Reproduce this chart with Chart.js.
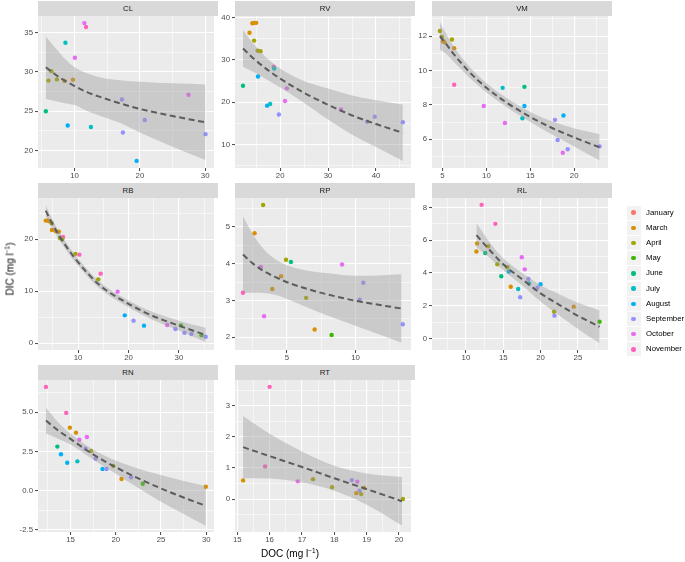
<!DOCTYPE html>
<html><head><meta charset="utf-8">
<script src="https://cdn.jsdelivr.net/npm/chart.js@4.4.1/dist/chart.umd.min.js"></script>
<style>
html,body{margin:0;padding:0;background:#fff;}
#fig{position:relative;width:685px;height:562px;overflow:hidden;font-family:"Liberation Sans",Arial,Helvetica,sans-serif;background:#fff;}
canvas{position:absolute;}
.strip{position:absolute;background:#D9D9D9;color:#1A1A1A;font-size:7.8px;text-align:center;z-index:5;}
.ttl{position:absolute;font-size:10px;color:#000;white-space:nowrap;z-index:5;}
.ttl sup{font-size:6.5px;vertical-align:4px;line-height:0;}
.key{position:absolute;width:14px;height:14px;background:#F2F2F2;}
.dot{position:absolute;width:4.4px;height:4.4px;border-radius:50%;left:4.8px;top:4.8px;}
.ltxt{position:absolute;font-size:7.8px;color:#000;white-space:nowrap;}
</style></head>
<body><div id="fig"></div>
<script>
// ---------- legend categories ----------
const MONTHS = ['January','March','April','May','June','July','August','September','October','November'];
const MONTH_CODES = ['Jan','Mar','Apr','May','Jun','Jul','Aug','Sep','Oct','Nov'];
const MONTH_COLORS = ['#F8766D','#D89000','#A3A500','#39B600','#00BF7D','#00BFC4','#00B0F6','#9590FF','#E76BF3','#FF62BC'];

// ---------- CL ----------
const CL_doc = [5.6, 6.0, 6.45, 7.3, 8.45, 9.75, 8.6, 8.95, 10.05, 11.5, 11.75, 12.5, 17.25, 17.4, 20.75, 19.5, 27.45, 30.05];
const CL_dic = [25.0, 28.9, 30.1, 29.05, 28.85, 29.0, 33.7, 23.2, 31.8, 36.2, 35.7, 23.0, 26.5, 22.3, 23.9, 18.7, 27.1, 22.1];
const CL_month = ['Jun','Apr','Apr','Apr','Mar','Mar','Jul','Aug','Oct','Oct','Nov','Jul','Sep','Sep','Sep','Aug','Oct','Sep'];
const CL_fitDoc = [5.6, 7, 8.7, 10, 12, 14, 17, 20, 25, 30.05];
const CL_fit = [30.6, 29.7, 28.8, 28.2, 27.4, 26.8, 26.0, 25.3, 24.4, 23.6];
const CL_hi = [34.5, 33.1, 31.5, 30.6, 29.8, 29.3, 28.95, 28.75, 28.55, 28.4];
const CL_lo = [26.6, 26.3, 26.0, 25.8, 25.0, 24.4, 23.5, 22.3, 20.5, 18.8];
const CL_xTicks = [10, 20, 30];
const CL_yTicks = [20, 25, 30, 35];

// ---------- RV ----------
const RV_doc = [12.24, 13.6, 14.2, 14.6, 15.0, 14.56, 15.3, 15.9, 15.37, 17.28, 17.9, 18.64, 18.75, 19.73, 21.0, 21.4, 32.7, 38.16, 39.73, 45.6];
const RV_dic = [23.9, 36.45, 38.7, 38.8, 38.8, 34.6, 32.2, 32.1, 26.1, 19.2, 19.6, 28.4, 28.0, 17.1, 20.3, 23.3, 18.3, 15.4, 16.6, 15.3];
const RV_month = ['Jun','Mar','Mar','Mar','Mar','Apr','Apr','Apr','Aug','Aug','Jul','Nov','Jul','Sep','Oct','Oct','Oct','Sep','Sep','Sep'];
const RV_fitDoc = [12.24, 14.35, 17.76, 20, 24.56, 30, 34.76, 40, 45.6];
const RV_fit = [32.74, 30.45, 27.35, 25.6, 22.5, 19.4, 17.0, 14.85, 12.78];
const RV_hi = [37.08, 33.92, 29.97, 28.0, 25.24, 23.27, 21.69, 20.5, 19.47];
const RV_lo = [28.4, 27.2, 25.0, 23.5, 20.2, 15.9, 12.5, 9.4, 6.13];
const RV_xTicks = [20, 30, 40];
const RV_yTicks = [10, 20, 30, 40];

// ---------- VM ----------
const VM_doc = [4.7, 4.93, 5.05, 5.22, 6.07, 6.33, 6.33, 9.7, 11.85, 14.33, 14.33, 12.11, 14.1, 17.81, 18.78, 18.11, 18.7, 19.26, 22.89];
const VM_dic = [12.3, 11.95, 11.7, 11.65, 11.8, 11.3, 9.17, 7.94, 8.99, 9.05, 7.94, 6.95, 7.22, 7.13, 7.38, 5.96, 5.22, 5.42, 5.59];
const VM_month = ['Apr','Apr','Mar','Mar','Apr','Mar','Nov','Oct','Jul','Jun','Aug','Oct','Jul','Sep','Aug','Sep','Oct','Sep','Sep'];
const VM_fitDoc = [4.7, 5.3, 6.19, 8.04, 10, 12.11, 15, 17.3, 19.96, 22.89];
const VM_fit = [12.0, 11.62, 11.01, 9.92, 9.0, 8.2, 7.3, 6.7, 6.12, 5.53];
const VM_hi = [12.8, 12.24, 11.46, 10.24, 9.28, 8.47, 7.59, 7.08, 6.64, 6.3];
const VM_lo = [11.2, 11.0, 10.56, 9.6, 8.72, 7.93, 7.01, 6.32, 5.6, 4.76];
const VM_xTicks = [5, 10, 15, 20];
const VM_yTicks = [6, 8, 10, 12];

// ---------- RB ----------
const RB_doc = [3.59, 3.98, 4.3, 4.76, 4.82, 5.53, 6.18, 6.38, 7.02, 6.83, 9.48, 10.26, 14.0, 14.47, 17.83, 19.26, 21.0, 23.07, 27.67, 29.29, 30.39, 31.1, 32.46, 34.47, 35.3];
const RB_dic = [23.6, 23.6, 23.45, 23.1, 21.8, 21.6, 21.45, 20.25, 20.45, 20.0, 17.2, 17.05, 12.3, 13.4, 9.94, 5.38, 4.36, 3.4, 3.53, 2.76, 3.46, 2.05, 1.79, 1.54, 1.28];
const RB_month = ['Mar','Mar','Mar','Apr','Mar','Mar','Mar','Apr','Nov','Apr','Apr','Nov','Apr','Nov','Oct','Aug','Sep','Aug','Oct','Sep','May','Sep','Sep','May','Sep'];
const RB_fitDoc = [3.59, 4.43, 6.05, 7.67, 10, 14.14, 20, 24.5, 30, 35.3];
const RB_fit = [25.5, 23.8, 21.0, 18.6, 15.6, 11.3, 7.6, 5.4, 3.4, 1.6];
const RB_hi = [26.6, 24.75, 21.8, 19.35, 16.3, 11.95, 8.25, 6.15, 4.35, 3.0];
const RB_lo = [24.4, 22.85, 20.2, 17.85, 14.9, 10.65, 6.95, 4.65, 2.45, 0.2];
const RB_xTicks = [10, 20, 30];
const RB_yTicks = [0, 10, 20];

// ---------- RP ----------
const RP_doc = [1.79, 2.64, 3.26, 3.1, 3.33, 3.93, 4.57, 4.93, 5.29, 6.4, 7.02, 8.26, 9.02, 10.31, 10.57, 13.45];
const RP_dic = [3.21, 4.83, 5.6, 3.91, 2.57, 3.31, 3.66, 4.11, 4.05, 3.07, 2.21, 2.06, 3.98, 3.02, 3.48, 2.35];
const RP_month = ['Nov','Mar','Apr','Oct','Oct','Mar','Mar','Apr','Jun','Apr','Mar','May','Oct','Sep','Sep','Sep'];
const RP_fitDoc = [1.79, 2.5, 3.3, 4.2, 5.2, 6.5, 8, 10, 11.7, 13.36];
const RP_fit = [4.25, 4.01, 3.8, 3.63, 3.47, 3.31, 3.16, 2.99, 2.88, 2.78];
const RP_hi = [5.29, 4.81, 4.4, 4.11, 3.93, 3.81, 3.74, 3.67, 3.68, 3.71];
const RP_lo = [3.21, 3.21, 3.2, 3.15, 3.01, 2.81, 2.58, 2.31, 2.08, 1.85];
const RP_xTicks = [5, 10];
const RP_yTicks = [2, 3, 4, 5];

// ---------- RL ----------
const RL_doc = [12.1, 13.94, 11.49, 11.4, 12.98, 12.58, 14.2, 14.73, 15.56, 15.73, 16.0, 17.0, 17.26, 17.48, 17.88, 18.36, 18.45, 19.58, 20.0, 21.8, 21.86, 24.44, 27.9];
const RL_dic = [8.16, 7.0, 5.8, 5.31, 5.63, 5.22, 4.53, 3.8, 4.35, 4.08, 3.16, 3.02, 2.51, 4.96, 4.22, 3.63, 3.35, 3.1, 3.31, 1.63, 1.39, 1.94, 1.02];
const RL_month = ['Nov','Nov','Mar','Mar','Apr','Jun','Apr','Jun','Apr','Aug','Mar','Jul','Sep','Oct','Oct','Sep','Jul','Sep','Aug','Apr','Sep','Mar','May'];
const RL_fitDoc = [11.4, 13, 15, 17.5, 20, 22.5, 25, 27.9];
const RL_fit = [6.31, 5.49, 4.53, 3.63, 2.75, 2.05, 1.38, 0.71];
const RL_hi = [7.05, 5.99, 4.89, 4.01, 3.25, 2.7, 2.18, 1.71];
const RL_lo = [5.57, 4.99, 4.17, 3.25, 2.25, 1.4, 0.58, -0.29];
const RL_xTicks = [10, 15, 20, 25];
const RL_yTicks = [0, 2, 4, 6, 8];

// ---------- RN ----------
const RN_doc = [12.29, 13.55, 13.95, 14.53, 14.64, 14.93, 15.61, 15.76, 15.98, 16.81, 16.66, 17.28, 17.78, 18.54, 18.98, 19.73, 20.64, 21.69, 22.99, 29.96];
const RN_dic = [6.62, 2.81, 2.32, 4.96, 1.78, 4.02, 3.7, 1.87, 3.25, 3.42, 2.68, 2.53, 2.04, 1.38, 1.38, 1.57, 0.74, 0.85, 0.44, 0.25];
const RN_month = ['Nov','Jun','Aug','Nov','Aug','Mar','Mar','Jul','Oct','Oct','Sep','Apr','Sep','Aug','Sep','Apr','Mar','Sep','May','Mar'];
const RN_fitDoc = [12.29, 13.5, 15, 17.5, 20, 22.5, 25, 27.5, 29.96];
const RN_fit = [4.47, 3.9, 3.3, 2.31, 1.5, 0.78, 0.14, -0.44, -0.97];
const RN_hi = [5.3, 4.45, 3.65, 2.63, 1.92, 1.4, 0.99, 0.61, 0.3];
const RN_lo = [3.64, 3.35, 2.95, 1.99, 1.08, 0.16, -0.71, -1.49, -2.24];
const RN_xTicks = [15, 20, 25, 30];
const RN_yTicks = [-2.5, 0, 2.5, 5];
const RN_yTickLabels = ['-2.5', '0.0', '2.5', '5.0'];

// ---------- RT ----------
const RT_doc = [15.18, 16.0, 15.86, 16.87, 17.34, 17.93, 18.54, 18.71, 18.78, 18.68, 18.83, 18.92, 20.12];
const RT_dic = [0.6, 3.61, 1.05, 0.57, 0.64, 0.38, 0.61, 0.56, 0.27, 0.19, 0.16, 0.36, 0.0];
const RT_month = ['Mar','Nov','Nov','Oct','Apr','Apr','Sep','Oct','Sep','Mar','Apr','Mar','Apr'];
const RT_fitDoc = [15.18, 16, 17, 18, 19, 20.09];
const RT_fit = [1.67, 1.38, 1.03, 0.67, 0.32, -0.07];
const RT_hi = [2.67, 2.1, 1.53, 1.07, 0.82, 0.71];
const RT_lo = [0.67, 0.66, 0.53, 0.27, -0.18, -0.85];
const RT_xTicks = [15, 16, 17, 18, 19, 20];
const RT_yTicks = [0, 1, 2, 3];

// ---------- layout ----------
const COL_X = [38, 235, 432];
const ROW_Y = [1, 183, 365];
const PW = 180, PH = 152, STRIP = 15, YW = 25, XH = 14;
const FONT = '"Liberation Sans", Arial, Helvetica, sans-serif';

const PANELS = [
  {name:'CL', col:0, row:0, doc:CL_doc, dic:CL_dic, month:CL_month, fx:CL_fitDoc, fit:CL_fit, hi:CL_hi, lo:CL_lo, xr:[4.4,31.35], yr:[17.8,37.1], xt:CL_xTicks, yt:CL_yTicks},
  {name:'RV', col:1, row:0, doc:RV_doc, dic:RV_dic, month:RV_month, fx:RV_fitDoc, fit:RV_fit, hi:RV_hi, lo:RV_lo, xr:[10.57,47.3], yr:[4.45,40.42], xt:RV_xTicks, yt:RV_yTicks},
  {name:'VM', col:2, row:0, doc:VM_doc, dic:VM_dic, month:VM_month, fx:VM_fitDoc, fit:VM_fit, hi:VM_hi, lo:VM_lo, xr:[3.8,23.85], yr:[4.33,13.17], xt:VM_xTicks, yt:VM_yTicks},
  {name:'RB', col:0, row:1, doc:RB_doc, dic:RB_dic, month:RB_month, fx:RB_fitDoc, fit:RB_fit, hi:RB_hi, lo:RB_lo, xr:[2.05,36.95], yr:[-1.28,27.94], xt:RB_xTicks, yt:RB_yTicks},
  {name:'RP', col:1, row:1, doc:RP_doc, dic:RP_dic, month:RP_month, fx:RP_fitDoc, fit:RP_fit, hi:RP_hi, lo:RP_lo, xr:[1.21,14.05], yr:[1.65,5.79], xt:RP_xTicks, yt:RP_yTicks},
  {name:'RL', col:2, row:1, doc:RL_doc, dic:RL_dic, month:RL_month, fx:RL_fitDoc, fit:RL_fit, hi:RL_hi, lo:RL_lo, xr:[5.45,29.03], yr:[-0.71,8.58], xt:RL_xTicks, yt:RL_yTicks},
  {name:'RN', col:0, row:2, doc:RN_doc, dic:RN_dic, month:RN_month, fx:RN_fitDoc, fit:RN_fit, hi:RN_hi, lo:RN_lo, xr:[11.41,30.86], yr:[-2.64,7.06], xt:RN_xTicks, yt:RN_yTicks, ytl:RN_yTickLabels},
  {name:'RT', col:1, row:2, doc:RT_doc, dic:RT_dic, month:RT_month, fx:RT_fitDoc, fit:RT_fit, hi:RT_hi, lo:RT_lo, xr:[14.93,20.37], yr:[-1.06,3.83], xt:RT_xTicks, yt:RT_yTicks}
];

const fig = document.getElementById('fig');

function withMinor(majors, lo, hi) {
  const step = majors.length > 1 ? majors[1] - majors[0] : 1;
  const all = majors.slice();
  for (let i = -1; i < majors.length; i++) {
    const base = i < 0 ? majors[0] - step : majors[i];
    const m = base + step / 2;
    if (m > lo && m < hi) all.push(m);
  }
  return all.sort((a, b) => a - b);
}

function axisCfg(dir, range, majors, labels) {
  const all = withMinor(majors, range[0], range[1]);
  const isMinor = c => !!(c.tick && c.tick.minor);
  return {
    type: 'linear', min: range[0], max: range[1],
    afterBuildTicks: s => { s.ticks = all.map(v => ({value: v, minor: majors.indexOf(v) < 0})); },
    afterFit: s => { if (dir === 'x') s.height = XH; else s.width = YW; },
    ticks: {
      autoSkip: false, maxRotation: 0, minRotation: 0,
      padding: dir === 'x' ? 0 : 2,
      color: '#4D4D4D', font: {family: FONT, size: 7.8},
      callback: v => { const i = majors.indexOf(v); return i < 0 ? '' : (labels ? labels[i] : String(v)); }
    },
    grid: {
      color: '#FFFFFF',
      lineWidth: c => isMinor(c) ? 0.55 : 1.1,
      tickColor: c => isMinor(c) ? 'rgba(0,0,0,0)' : '#333333',
      tickLength: 3, tickWidth: 0.9, drawTicks: true, drawOnChartArea: true
    },
    border: {display: false}
  };
}

const bgPlugin = {
  id: 'panelbg',
  beforeDraw(chart) {
    const a = chart.chartArea, ctx = chart.ctx;
    ctx.save(); ctx.fillStyle = '#EBEBEB';
    ctx.fillRect(a.left, a.top, a.right - a.left, a.bottom - a.top);
    ctx.restore();
  }
};

function colorOf(code) { return MONTH_COLORS[MONTH_CODES.indexOf(code)]; }

PANELS.forEach(p => {
  const cw = YW + PW, ch = STRIP + PH + XH;
  const cv = document.createElement('canvas');
  cv.width = cw; cv.height = ch;
  cv.style.left = (COL_X[p.col] - YW) + 'px';
  cv.style.top = ROW_Y[p.row] + 'px';
  cv.style.width = cw + 'px'; cv.style.height = ch + 'px';
  fig.appendChild(cv);

  const strip = document.createElement('div');
  strip.className = 'strip';
  strip.style.left = COL_X[p.col] + 'px';
  strip.style.top = ROW_Y[p.row] + 'px';
  strip.style.width = PW + 'px';
  strip.style.height = STRIP + 'px';
  strip.style.lineHeight = STRIP + 'px';
  strip.textContent = p.name;
  fig.appendChild(strip);

  const fitData = p.fx.map((x, i) => ({x: x, y: p.fit[i]}));
  const loData = p.fx.map((x, i) => ({x: x, y: p.lo[i]}));
  const hiData = p.fx.map((x, i) => ({x: x, y: p.hi[i]}));
  const ptData = p.doc.map((x, i) => ({x: x, y: p.dic[i]}));

  new Chart(cv, {
    type: 'line',
    data: {
      datasets: [
        {data: fitData, order: 1, borderColor: '#5C5C5C', borderWidth: 2, borderDash: [6, 3.6],
         pointRadius: 0, fill: false, cubicInterpolationMode: 'monotone'},
        {data: loData, order: 2, borderColor: 'rgba(0,0,0,0)', borderWidth: 0, pointRadius: 0,
         fill: false, cubicInterpolationMode: 'monotone'},
        {data: hiData, order: 2, borderColor: 'rgba(0,0,0,0)', borderWidth: 0, pointRadius: 0,
         fill: {target: 1}, backgroundColor: 'rgba(153,153,153,0.4)', cubicInterpolationMode: 'monotone'},
        {data: ptData, order: 3, showLine: false, pointRadius: 2.2, pointBorderWidth: 0,
         pointBackgroundColor: p.month.map(colorOf), pointBorderColor: 'rgba(0,0,0,0)'}
      ]
    },
    options: {
      responsive: false, animation: false, events: [],
      layout: {padding: {top: STRIP, left: 0, right: 0, bottom: 0}},
      plugins: {legend: {display: false}, tooltip: {enabled: false}},
      scales: {
        x: axisCfg('x', p.xr, p.xt, p.xtl),
        y: axisCfg('y', p.yr, p.yt, p.ytl)
      }
    },
    plugins: [bgPlugin]
  });
});

// axis titles
const xt = document.createElement('div');
xt.className = 'ttl';
xt.innerHTML = 'DOC (mg l<sup>\u22121</sup>)';
xt.style.left = '290px'; xt.style.top = '553px';
xt.style.transform = 'translate(-50%,-50%)';
fig.appendChild(xt);

const yt = document.createElement('div');
yt.className = 'ttl';
yt.innerHTML = 'DIC (mg l<sup>\u22121</sup>)';
yt.style.left = '9.5px'; yt.style.top = '269px';
yt.style.transform = 'translate(-50%,-50%) rotate(-90deg)';
fig.appendChild(yt);

// legend
MONTHS.forEach((m, i) => {
  const cy = 212.7 + 15.18 * i;
  const k = document.createElement('div');
  k.className = 'key';
  k.style.left = '626.7px'; k.style.top = (cy - 7) + 'px';
  const d = document.createElement('div');
  d.className = 'dot'; d.style.background = MONTH_COLORS[i];
  k.appendChild(d);
  fig.appendChild(k);
  const t = document.createElement('div');
  t.className = 'ltxt';
  t.style.left = '646px'; t.style.top = (cy - 5) + 'px';
  t.style.lineHeight = '10px';
  t.textContent = m;
  fig.appendChild(t);
});
</script>
</body></html>
